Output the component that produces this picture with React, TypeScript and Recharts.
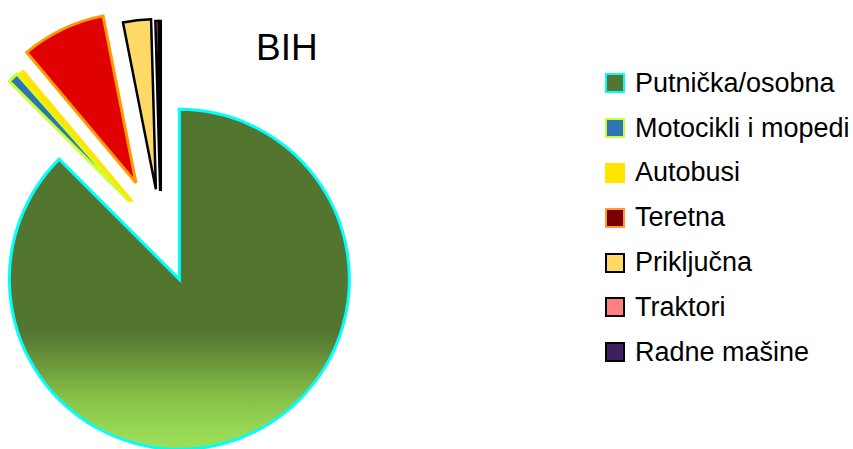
import React from 'react';
import { PieChart, Pie, Cell } from 'recharts';

const categories = [
  'Putnička/osobna',
  'Motocikli i mopedi',
  'Autobusi',
  'Teretna',
  'Priključna',
  'Traktori',
  'Radne mašine',
];
const shares = [87.5, 1.0, 0.4, 8.0, 2.65, 0.3, 0.15];
const title = 'BIH';

const sliceFill = ['url(#greenGrad)', '#2e75b6', '#ffe500', '#e00000', '#ffd966', '#ff8080', '#3f1f5f'];
const sliceStroke = ['#00ffff', '#ccff33', '#ffe500', '#ff9900', '#000000', '#000000', '#000000'];
const legendFill = ['#537531', '#2e75b6', '#ffe500', '#7a0000', '#ffd966', '#ff8080', '#3f1f5f'];
const legendBorder = ['#00ffff', '#ccff33', '#ffe500', '#ff9933', '#000000', '#000000', '#000000'];
const explode = [48, 46, 44, 58, 46, 44, 44];

const data = categories.map((name, i) => ({ name, value: shares[i] }));
const total = shares.reduce((a, b) => a + b, 0);

const W = 853;
const H = 449;
const BASE_X = 161;
const BASE_Y = 235;
const R = 170;

function offsetFor(i: number) {
  const before = shares.slice(0, i).reduce((a, b) => a + b, 0);
  const mid = ((before + shares[i] / 2) / total) * 2 * Math.PI;
  return {
    cx: BASE_X + explode[i] * Math.sin(mid),
    cy: BASE_Y - explode[i] * Math.cos(mid),
  };
}

const FONT = '"Liberation Sans", Arial, sans-serif';

export default function App() {
  return (
    <div style={{ position: 'absolute', left: 0, top: 0, width: W, height: H, background: '#fff', overflow: 'hidden' }}>
      <PieChart width={W} height={H} margin={{ top: 0, right: 0, bottom: 0, left: 0 }}>
        <defs>
          <linearGradient id="greenGrad" gradientUnits="userSpaceOnUse" x1="0" y1="0" x2="0" y2={H}>
            <stop offset="0" stopColor="#527530" />
            <stop offset="0.74" stopColor="#527530" />
            <stop offset="0.81" stopColor="#6b983b" />
            <stop offset="0.885" stopColor="#86c048" />
            <stop offset="0.96" stopColor="#97d955" />
            <stop offset="1" stopColor="#9ce058" />
          </linearGradient>
        </defs>
        {categories.map((_, k) => {
          const { cx, cy } = offsetFor(k);
          return (
            <Pie
              key={k}
              data={data}
              dataKey="value"
              nameKey="name"
              cx={cx}
              cy={cy}
              innerRadius={0}
              outerRadius={R}
              startAngle={90}
              endAngle={-270}
              isAnimationActive={false}
              legendType="none"
            >
              {data.map((_, i) => (
                <Cell
                  key={i}
                  fill={i === k ? sliceFill[i] : 'none'}
                  stroke={i === k ? sliceStroke[i] : 'none'}
                  strokeWidth={i === k ? (i <= 3 ? 3 : 2.5) : 0}
                />
              ))}
            </Pie>
          );
        })}
      </PieChart>
      <div
        style={{
          position: 'absolute',
          left: 256,
          top: 29,
          fontFamily: FONT,
          fontSize: 37,
          lineHeight: '37px',
          color: '#000',
        }}
      >
        {title}
      </div>
      <div style={{ position: 'absolute', left: 605, top: 61, fontFamily: FONT }}>
        {categories.map((name, i) => (
          <div key={name} style={{ display: 'flex', alignItems: 'center', height: 44.8 }}>
            <div
              style={{
                width: 20,
                height: 20,
                boxSizing: 'border-box',
                background: legendFill[i],
                border: `2px solid ${legendBorder[i]}`,
                marginRight: 10,
              }}
            />
            <span style={{ fontSize: 27, color: '#000', whiteSpace: 'nowrap' }}>{name}</span>
          </div>
        ))}
      </div>
    </div>
  );
}
